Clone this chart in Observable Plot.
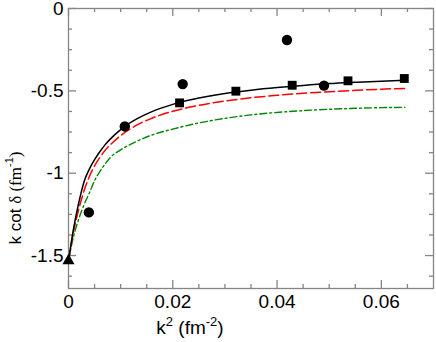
<!DOCTYPE html>
<html>
<head>
<meta charset="utf-8">
<script src="https://cdn.jsdelivr.net/npm/d3@7"></script>
<script src="https://cdn.jsdelivr.net/npm/@observablehq/plot@0.6"></script>
<style>
  html, body { margin: 0; padding: 0; background: white; }
  #chart { width: 436px; height: 342px; }
</style>
</head>
<body>
<div id="chart"></div>
<script>
// ---- data ----
const circleK2   = [0.0039, 0.0108, 0.0219, 0.0419, 0.0490];
const circleKcot = [-1.238, -0.716, -0.459, -0.191, -0.468];

const squareK2   = [0.0213, 0.0321, 0.0429, 0.0536, 0.0644];
const squareKcot = [-0.573, -0.502, -0.466, -0.439, -0.425];

const triangleK2   = [0];
const triangleKcot = [-1.532];

const curveK2 = [0, 0.001, 0.002, 0.003, 0.004, 0.005, 0.006, 0.007, 0.008, 0.010,
                 0.013, 0.016, 0.020, 0.025, 0.030, 0.035, 0.040, 0.045, 0.050,
                 0.055, 0.060, 0.0645];
const blackCurve = [-1.53, -1.33, -1.175, -1.05, -0.975, -0.918, -0.870, -0.828, -0.793, -0.735,
                    -0.672, -0.626, -0.582, -0.544, -0.516, -0.496, -0.480, -0.467, -0.456,
                    -0.448, -0.441, -0.436];
const redCurve   = [-1.53, -1.35, -1.215, -1.105, -1.02, -0.955, -0.905, -0.862, -0.828, -0.772,
                    -0.710, -0.666, -0.624, -0.588, -0.562, -0.542, -0.527, -0.515, -0.505,
                    -0.497, -0.490, -0.485];
const greenCurve = [-1.53, -1.38, -1.275, -1.19, -1.12, -1.045, -0.990, -0.945, -0.905, -0.858,
                    -0.808, -0.768, -0.732, -0.695, -0.667, -0.646, -0.631, -0.620, -0.612,
                    -0.606, -0.602, -0.600];

// ticks
const xMajor = [0, 0.02, 0.04, 0.06];
const xMinor = [0.005, 0.01, 0.015, 0.025, 0.03, 0.035, 0.045, 0.05, 0.055, 0.065];
const yMajor = [0, -0.5, -1, -1.5];
const yMinor = [-0.125, -0.25, -0.375, -0.625, -0.75, -0.875, -1.125, -1.25, -1.375, -1.625];

// ---- build tables ----
const toRows = (xs, ys) => xs.map((x, i) => ({x, y: ys[i]}));
const circles = toRows(circleK2, circleKcot);
const squares = toRows(squareK2, squareKcot);
const triangles = toRows(triangleK2, triangleKcot);
const black = toRows(curveK2, blackCurve);
const red = toRows(curveK2, redCurve);
const green = toRows(curveK2, greenCurve);

const W = 436, H = 342, mL = 68, mR = 3, mT = 8, mB = 54;
const innerW = W - mL - mR, innerH = H - mT - mB;
const gray = "#858585";
const majorLen = 8, minorLen = 4;

const plot = Plot.plot({
  width: W, height: H,
  marginLeft: mL, marginRight: mR, marginTop: mT, marginBottom: mB,
  style: {fontFamily: "'Liberation Sans', Arial, Helvetica, sans-serif", fontSize: "19px", background: "white", color: "black", overflow: "visible"},
  x: {domain: [0, 0.07]},
  y: {domain: [-1.7, 0]},
  marks: [
    Plot.frame({stroke: gray, strokeWidth: 1.3}),
    // bottom / top ticks
    Plot.tickX(xMajor, {stroke: gray, strokeWidth: 1.3, insetTop: innerH - majorLen}),
    Plot.tickX(xMinor, {stroke: gray, strokeWidth: 1.3, insetTop: innerH - minorLen}),
    Plot.tickX(xMajor, {stroke: gray, strokeWidth: 1.3, insetBottom: innerH - majorLen}),
    Plot.tickX(xMinor, {stroke: gray, strokeWidth: 1.3, insetBottom: innerH - minorLen}),
    // left / right ticks
    Plot.tickY(yMajor, {stroke: gray, strokeWidth: 1.3, insetRight: innerW - majorLen}),
    Plot.tickY(yMinor, {stroke: gray, strokeWidth: 1.3, insetRight: innerW - minorLen}),
    Plot.tickY(yMajor, {stroke: gray, strokeWidth: 1.3, insetLeft: innerW - majorLen}),
    Plot.tickY(yMinor, {stroke: gray, strokeWidth: 1.3, insetLeft: innerW - minorLen}),
    Plot.axisX({ticks: xMajor, tickSize: 0, tickPadding: 6, tickFormat: d => String(d), label: null}),
    Plot.axisY({ticks: yMajor, tickSize: 0, tickPadding: 5, tickFormat: d => String(d), label: null}),
    // curves
    Plot.line(green, {x: "x", y: "y", stroke: "#008800", strokeWidth: 1.4, strokeDasharray: "7,3,2,3", curve: "monotone-x"}),
    Plot.line(red, {x: "x", y: "y", stroke: "#ff0000", strokeWidth: 1.5, strokeDasharray: "10,4", curve: "monotone-x"}),
    Plot.line(black, {x: "x", y: "y", stroke: "black", strokeWidth: 1.5, curve: "monotone-x"}),
    // points
    Plot.dot(circles, {x: "x", y: "y", r: 5.2, fill: "black", stroke: "none"}),
    Plot.dot(squares, {x: "x", y: "y", symbol: "square", r: 5, fill: "black", stroke: "none"}),
    Plot.dot(triangles, {x: "x", y: "y", symbol: "triangle", r: 4.5, fill: "black", stroke: "none"})
  ]
});

const svg = d3.select(plot);
// x-axis title: k^2 (fm^-2)
const xt = svg.append("text")
  .attr("x", 190).attr("y", 334)
  .attr("font-family", "'Liberation Sans', Arial, sans-serif")
  .attr("font-size", 19).attr("fill", "black");
xt.append("tspan").text("k");
xt.append("tspan").attr("font-size", 13).attr("dy", -8).text("2");
xt.append("tspan").attr("dy", 8).text(" (fm");
xt.append("tspan").attr("font-size", 13).attr("dy", -8).text("-2");
xt.append("tspan").attr("dy", 8).text(")");

// y-axis title: k cot δ (fm^-1)
const yt = svg.append("text")
  .attr("transform", "translate(21,198) rotate(-90)")
  .attr("font-family", "'Liberation Sans', Arial, sans-serif")
  .attr("font-size", 17).attr("fill", "black");
yt.append("tspan").text("k cot ");
yt.append("tspan").attr("font-family", "'Liberation Serif', 'Times New Roman', serif").text("δ (fm");
yt.append("tspan").attr("font-size", 11).attr("dy", -8).text("-1");
yt.append("tspan").attr("dy", 8).attr("font-family", "'Liberation Serif', 'Times New Roman', serif").text(")");

document.getElementById("chart").appendChild(plot);
</script>
</body>
</html>
